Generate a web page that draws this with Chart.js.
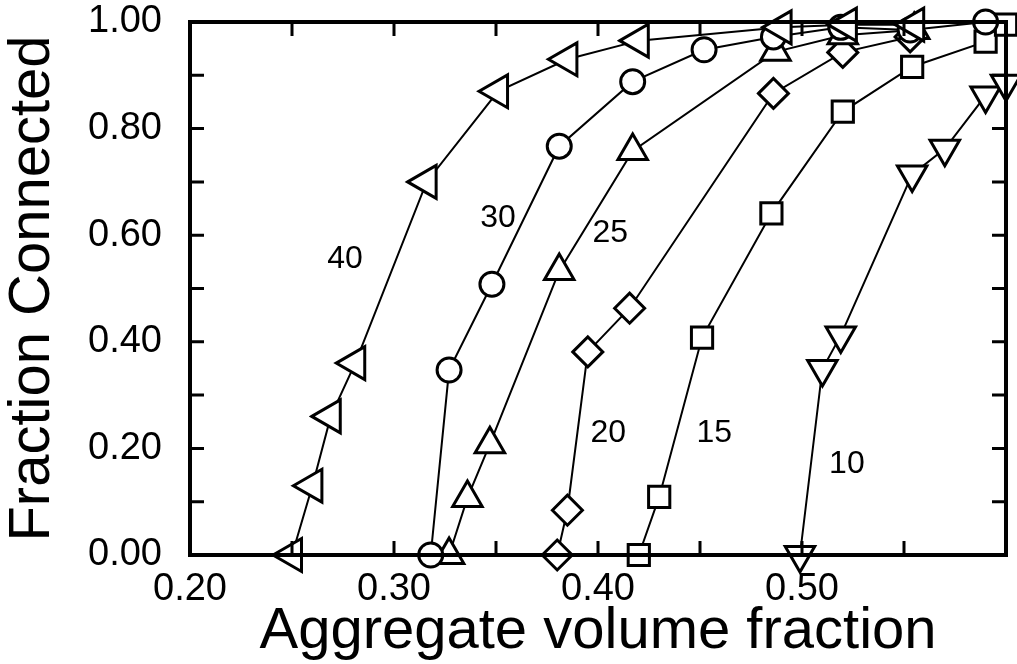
<!DOCTYPE html>
<html>
<head>
<meta charset="utf-8">
<script src="https://cdn.jsdelivr.net/npm/chart.js@4/dist/chart.umd.min.js"></script>
<style>
  body { margin: 0; background: #fff; }
</style>
</head>
<body>
<canvas id="chart" width="1017" height="664"></canvas>
<script>
// values
var x40 = [0.250, 0.260, 0.269, 0.281, 0.316, 0.351, 0.385, 0.420, 0.490, 0.522, 0.555];
var y40 = [0.00, 0.13, 0.26, 0.36, 0.70, 0.87, 0.93, 0.965, 0.99, 0.995, 0.995];
var x30 = [0.318, 0.327, 0.348, 0.381, 0.417, 0.452, 0.486, 0.519, 0.553, 0.590];
var y30 = [0.00, 0.347, 0.508, 0.767, 0.888, 0.948, 0.972, 0.99, 0.985, 1.00];
var x25 = [0.327, 0.336, 0.347, 0.381, 0.417, 0.487, 0.520, 0.555];
var y25 = [0.00, 0.107, 0.208, 0.533, 0.758, 0.944, 0.975, 0.985];
var x20 = [0.380, 0.385, 0.395, 0.4155, 0.486, 0.520, 0.553];
var y20 = [0.00, 0.084, 0.381, 0.463, 0.866, 0.943, 0.972];
var x15 = [0.420, 0.430, 0.451, 0.485, 0.520, 0.554, 0.590, 0.600];
var y15 = [0.00, 0.109, 0.408, 0.641, 0.832, 0.916, 0.963, 0.995];
var x10 = [0.499, 0.510, 0.519, 0.554, 0.570, 0.590, 0.600];
var y10 = [0.00, 0.349, 0.412, 0.714, 0.762, 0.862, 0.884];

// curve labels
var labelText = ["40", "30", "25", "20", "15", "10"];
var labelX = [0.276, 0.351, 0.406, 0.405, 0.457, 0.522];
var labelY = [0.555, 0.632, 0.604, 0.229, 0.229, 0.171];

var font = "'Liberation Sans', Arial, Helvetica, sans-serif";

function pts(xs, ys) {
  return xs.map(function(x, i) { return {x: x, y: ys[i]}; });
}

function series(label, xs, ys, style, radius, rot) {
  return {
    label: label,
    data: pts(xs, ys),
    showLine: true,
    borderColor: "#000",
    borderWidth: 2,
    pointStyle: style,
    pointRadius: radius,
    pointRotation: rot,
    pointBackgroundColor: "#fff",
    pointBorderColor: "#000",
    pointBorderWidth: 3
  };
}

// inward ticks on all four sides, the box, and the curve labels
var frame = {
  id: "frame",
  afterDraw: function(chart) {
    var ctx = chart.ctx, a = chart.chartArea;
    var xs = chart.scales.x, ys = chart.scales.y;
    ctx.save();
    ctx.strokeStyle = "#000";
    ctx.lineWidth = 3;
    xs.ticks.forEach(function(t) {
      var px = xs.getPixelForValue(t.value);
      ctx.beginPath();
      ctx.moveTo(px, a.bottom); ctx.lineTo(px, a.bottom - 14);
      ctx.moveTo(px, a.top); ctx.lineTo(px, a.top + 14);
      ctx.stroke();
    });
    ys.ticks.forEach(function(t) {
      var py = ys.getPixelForValue(t.value);
      ctx.beginPath();
      ctx.moveTo(a.left, py); ctx.lineTo(a.left + 14, py);
      ctx.moveTo(a.right, py); ctx.lineTo(a.right - 14, py);
      ctx.stroke();
    });
    ctx.lineWidth = 4;
    ctx.strokeRect(a.left, a.top, a.right - a.left, a.bottom - a.top);

    ctx.fillStyle = "#000";
    ctx.font = "32px " + font;
    ctx.textAlign = "center";
    ctx.textBaseline = "middle";
    labelText.forEach(function(s, i) {
      ctx.fillText(s, xs.getPixelForValue(labelX[i]), ys.getPixelForValue(labelY[i]));
    });
    ctx.restore();
  }
};

new Chart(document.getElementById("chart"), {
  type: "scatter",
  data: {
    datasets: [
      series("40", x40, y40, "triangle", 19, -90),
      series("30", x30, y30, "circle", 12, 0),
      series("25", x25, y25, "triangle", 17, 0),
      series("20", x20, y20, "rectRot", 15, 0),
      series("15", x15, y15, "rect", 15, 0),
      series("10", x10, y10, "triangle", 17, 180)
    ]
  },
  options: {
    responsive: false,
    animation: false,
    clip: false,
    layout: { autoPadding: false, padding: { top: 0, right: 11, left: 0, bottom: 0 } },
    plugins: { legend: { display: false }, tooltip: { enabled: false } },
    scales: {
      x: {
        type: "linear",
        min: 0.2, max: 0.6,
        border: { display: false },
        grid: { display: false },
        afterFit: function(s) { s.height = 109; },
        ticks: {
          stepSize: 0.05,
          padding: 4,
          color: "#000",
          font: { family: font, size: 38 },
          maxRotation: 0,
          autoSkip: false,
          callback: function(v) {
            var k = Math.round(v * 100);
            return (k % 10 === 0 && k < 60) ? (k / 100).toFixed(2) : "";
          }
        },
        title: {
          display: true,
          text: "Aggregate volume fraction",
          color: "#000",
          font: { family: font, size: 58, lineHeight: 1 },
          padding: { top: 0, bottom: 3 }
        }
      },
      y: {
        min: 0, max: 1,
        border: { display: false },
        grid: { display: false },
        afterFit: function(s) { s.width = 190; s.paddingTop = 22; s.paddingBottom = 0; },
        ticks: {
          stepSize: 0.1,
          padding: 20,
          color: "#000",
          font: { family: font, size: 38 },
          autoSkip: false,
          callback: function(v) {
            var k = Math.round(v * 100);
            return (k % 20 === 0) ? (k / 100).toFixed(2) : "";
          }
        },
        title: {
          display: true,
          text: "Fraction Connected",
          color: "#000",
          font: { family: font, size: 58, lineHeight: 1 },
          padding: { top: 4, bottom: 0 }
        }
      }
    }
  },
  plugins: [frame]
});
</script>
</body>
</html>
